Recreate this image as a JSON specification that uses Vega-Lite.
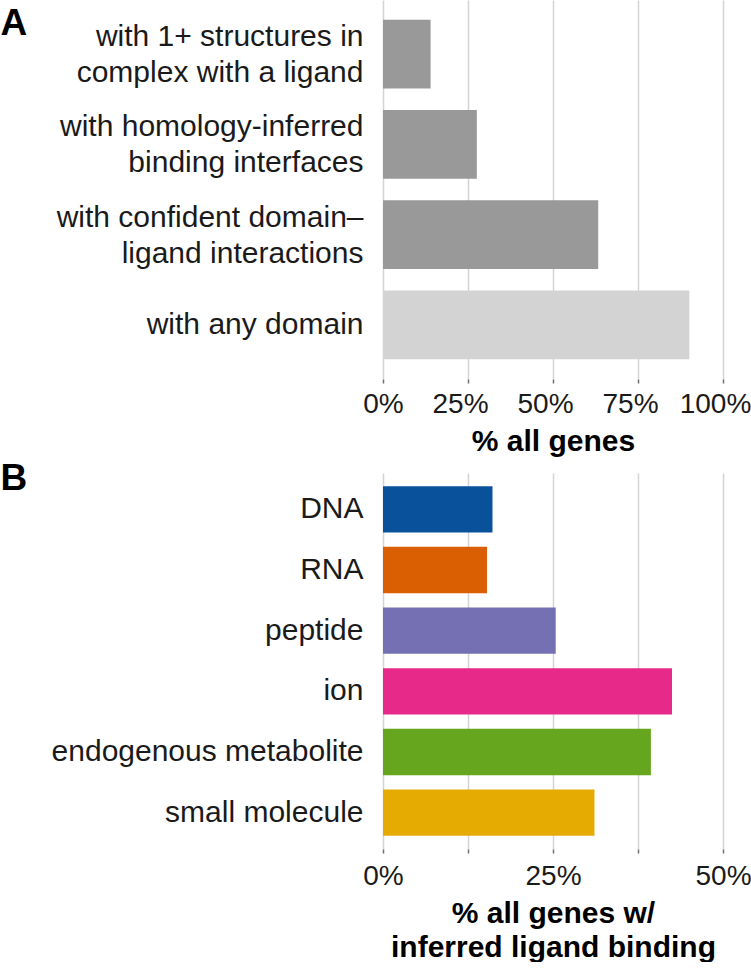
{
  "$schema": "https://vega.github.io/schema/vega-lite/v6.json",
  "background": "white",
  "padding": {"left": 0, "top": 0, "right": 0, "bottom": 0},
  "spacing": 3,
  "config": {
    "view": {"stroke": null},
    "font": "Liberation Sans",
    "axisX": {
      "grid": true,
      "gridColor": "#d4d4d4",
      "gridWidth": 1.5,
      "domain": false,
      "ticks": true,
      "tickColor": "#6e6e6e",
      "tickSize": 4,
      "tickWidth": 1.5,
      "labelFontSize": 28,
      "labelColor": "#1a1a1a",
      "labelPadding": 9,
      "labelFlush": false,
      "labelAngle": 0,
      "titleFontSize": 30,
      "titleFontWeight": "bold",
      "titleColor": "#000000",
      "titlePadding": 8
    },
    "axisY": {
      "grid": false,
      "domain": false,
      "ticks": false,
      "labelFontSize": 30,
      "labelColor": "#1a1a1a",
      "labelPadding": 20,
      "labelLineHeight": 36,
      "labelLimit": 500,
      "titleAngle": 0,
      "titleAlign": "left",
      "titleBaseline": "top",
      "titleFontSize": 37,
      "titleFontWeight": "bold",
      "titleColor": "#000000",
      "titleX": -383
    }
  },
  "resolve": {"scale": {"color": "independent"}},
  "vconcat": [
    {
      "width": 340,
      "height": 379,
      "data": {
        "values": [
          {"label": "with 1+ structures in\ncomplex with a ligand", "pct": 14.0, "shade": "subset"},
          {"label": "with homology-inferred\nbinding interfaces", "pct": 27.6, "shade": "subset"},
          {"label": "with confident domain–\nligand interactions", "pct": 63.3, "shade": "subset"},
          {"label": "with any domain", "pct": 90.1, "shade": "all"}
        ]
      },
      "mark": {"type": "bar"},
      "encoding": {
        "y": {
          "field": "label",
          "type": "nominal",
          "sort": null,
          "scale": {"paddingInner": 0.236, "paddingOuter": 0.218},
          "axis": {
            "title": "A",
            "titleY": 5,
            "labelExpr": "split(datum.label, '\\n')",
            "labelOffset": {"condition": {"test": "indexof(datum.value, '\\n') >= 0", "value": -17}, "value": 0}
          }
        },
        "x": {
          "field": "pct",
          "type": "quantitative",
          "scale": {"domain": [0, 100], "nice": false},
          "axis": {
            "values": [0, 25, 50, 75, 100],
            "labelExpr": "datum.value + '%'",
            "labelOffset": {"condition": {"test": "datum.value > 0", "value": -8}, "value": 0},
            "labelPadding": 7,
            "title": "% all genes"
          }
        },
        "color": {
          "field": "shade",
          "type": "nominal",
          "scale": {"domain": ["subset", "all"], "range": ["#999999", "#d3d3d3"]},
          "legend": null
        }
      }
    },
    {
      "width": 340,
      "height": 376,
      "data": {
        "values": [
          {"ligand": "DNA", "pct": 16.1},
          {"ligand": "RNA", "pct": 15.3},
          {"ligand": "peptide", "pct": 25.4},
          {"ligand": "ion", "pct": 42.5},
          {"ligand": "endogenous metabolite", "pct": 39.4},
          {"ligand": "small molecule", "pct": 31.1}
        ]
      },
      "mark": {"type": "bar"},
      "encoding": {
        "y": {
          "field": "ligand",
          "type": "nominal",
          "sort": null,
          "scale": {"paddingInner": 0.236, "paddingOuter": 0.218},
          "axis": {"title": "B", "titleY": -13}
        },
        "x": {
          "field": "pct",
          "type": "quantitative",
          "scale": {"domain": [0, 50], "nice": false},
          "axis": {
            "values": [0, 12.5, 25, 37.5, 50],
            "labelExpr": "datum.value % 25 == 0 ? datum.value + '%' : ''",
            "title": ["% all genes w/", "inferred ligand binding"],
            "titleLineHeight": 34
          }
        },
        "color": {
          "field": "ligand",
          "type": "nominal",
          "scale": {
            "domain": ["DNA", "RNA", "peptide", "ion", "endogenous metabolite", "small molecule"],
            "range": ["#0a519c", "#d95f02", "#7570b3", "#e7298a", "#66a61e", "#e6ab02"]
          },
          "legend": null
        }
      }
    }
  ]
}
